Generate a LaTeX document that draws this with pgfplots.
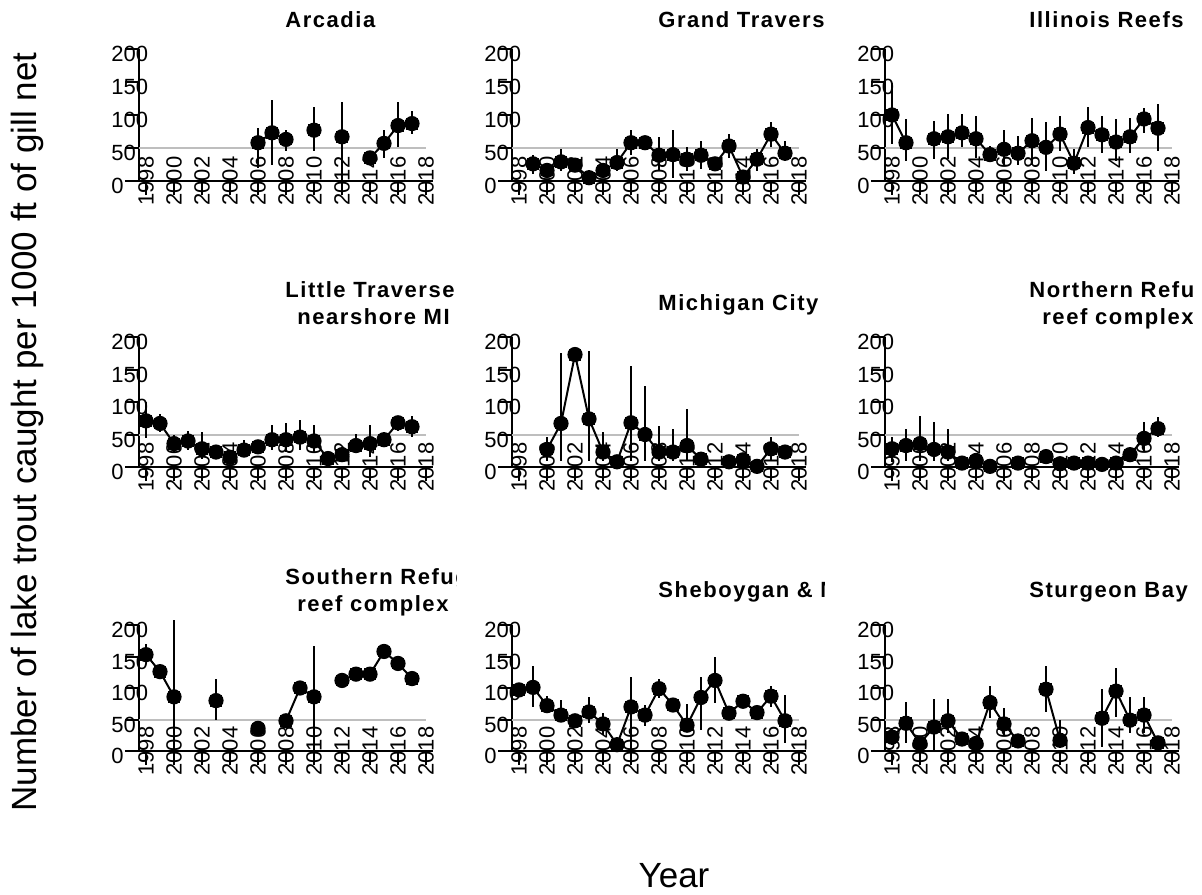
\documentclass[border=0pt]{standalone}
\usepackage{fontspec}
\setmainfont{Liberation Sans}
\newfontfamily\ttlfont[LetterSpace=7.0]{Liberation Sans}
\usepackage{pgfplots}
\pgfplotsset{compat=1.18}
\usepackage{pgfplotstable}

% columns: year, mean, upper, lower
\pgfplotstableread{
yr v hi lo
2006 58 81 20
2007 73 122 25
2008 63 78 46
2009 nan nan nan
2010 77 112 46
2011 nan nan nan
2012 67 119 0
2013 nan nan nan
2014 35 43 28
2015 57 78 35
2016 84 119 51
2017 87 106 71
}\arcadia

\pgfplotstableread{
yr v hi lo
1999 26 40 10
2000 16 25 8
2001 29 48 15
2002 24 35 13
2003 5 10 0
2004 16 25 8
2005 28 48 15
2006 58 78 40
2007 58 67 48
2008 39 66 15
2009 40 78 5
2010 33 51 15
2011 39 61 18
2012 26 35 20
2013 53 71 35
2014 6 13 0
2015 33 48 15
2016 71 89 51
2017 42 61 30
}\grandtrav

\pgfplotstableread{
yr v hi lo
1998 100 149 56
1999 58 94 30
2000 nan nan nan
2001 64 91 33
2002 67 101 33
2003 73 101 51
2004 64 99 35
2005 40 53 30
2006 48 78 25
2007 42 68 25
2008 61 96 25
2009 51 89 15
2010 71 99 46
2011 27 48 10
2012 81 112 51
2013 70 99 43
2014 59 94 30
2015 67 96 43
2016 94 111 73
2017 80 116 46
}\illinois

\pgfplotstableread{
yr v hi lo
1998 71 100 44
1999 67 82 54
2000 36 49 23
2001 40 56 26
2002 28 54 13
2003 23 33 15
2004 15 26 8
2005 26 41 15
2006 31 38 21
2007 42 64 26
2008 42 67 23
2009 46 73 26
2010 40 64 23
2011 13 18 8
2012 19 28 10
2013 33 51 21
2014 36 64 15
2015 42 54 31
2016 68 77 56
2017 62 79 46
}\littletrav

\pgfplotstableread{
yr v hi lo
2000 27 46 10
2001 67 175 10
2002 173 179 167
2003 74 178 10
2004 23 54 10
2005 8 13 3
2006 68 155 10
2007 50 124 10
2008 23 63 10
2009 23 59 10
2010 33 90 10
2011 12 15 8
2012 nan nan nan
2013 8 11 5
2014 11 16 5
2015 1 3 0
2016 28 46 10
2017 23 28 18
}\michcity

\pgfplotstableread{
yr v hi lo
1998 28 46 8
1999 33 59 10
2000 36 79 10
2001 27 69 10
2002 23 59 10
2003 6 9 3
2004 10 18 3
2005 1 2 0
2006 nan nan nan
2007 6 8 4
2008 nan nan nan
2009 16 26 8
2010 5 7 3
2011 6 8 4
2012 6 8 4
2013 4 6 2
2014 6 9 3
2015 19 26 13
2016 44 69 23
2017 59 77 46
}\northref

\pgfplotstableread{
yr v hi lo
1998 153 170 144
1999 126 126 126
2000 86 208 0
2001 nan nan nan
2003 80 114 50
2004 nan nan nan
2006 36 36 36
2007 nan nan nan
2008 48 54 41
2009 100 100 100
2010 86 167 0
2011 nan nan nan
2012 112 112 112
2013 122 122 122
2014 122 122 122
2015 158 158 158
2016 139 139 139
2017 115 115 115
}\southref

\pgfplotstableread{
yr v hi lo
1998 97 102 92
1999 101 135 70
2000 72 87 62
2001 57 81 47
2002 48 54 41
2003 62 85 44
2004 43 60 25
2005 10 15 4
2006 70 118 0
2007 57 73 39
2008 99 114 84
2009 73 81 65
2010 41 75 33
2011 85 117 33
2012 112 150 76
2013 60 68 52
2014 79 89 70
2015 61 70 54
2016 87 103 70
2017 48 89 13
}\sheboygan

\pgfplotstableread{
yr v hi lo
1998 22 36 10
1999 44 78 13
2000 12 23 2
2001 38 82 0
2002 48 82 28
2003 19 25 12
2004 12 20 4
2005 77 103 52
2006 43 68 25
2007 16 25 7
2008 nan nan nan
2009 98 135 62
2010 17 49 10
2011 nan nan nan
2013 52 99 7
2014 95 131 54
2015 49 86 28
2016 57 86 28
2017 13 20 4
}\sturgeon

\definecolor{refgray}{RGB}{190,190,190}

\pgfplotsset{
  panel/.style={
    scale only axis, width=147pt,
    xmin=1997.5, xmax=2018.5, ymin=0, ymax=200,
    axis x line=bottom, axis y line=left,
    axis line style={-, line width=1pt, black},
    xtick={1998,2000,...,2018}, ytick={0,50,...,200},
    tick align=outside, major tick length=7pt,
    tick style={black, line width=1pt},
    /pgf/number format/1000 sep={},
    /pgf/number format/assume math mode=true,
    xticklabel style={yshift=7pt, rotate=90, anchor=center, inner sep=0pt,
      font=\fontsize{11}{12}\selectfont},
    yticklabel style={anchor=west, inner sep=0pt, xshift=-7pt, yshift=-2.5pt,
      font=\fontsize{11}{12}\selectfont},
    clip=false, unbounded coords=jump,
    anchor=south west,
  },
  errb/.style={only marks, mark=none, forget plot,
    error bars/.cd, y dir=both, y explicit, error mark=none,
    error bar style={line width=1pt, black}},
}

\newcommand{\panel}[3]{%
  \begin{axis}[panel, at={#1}, height=#3]
    \addplot[refgray, line width=1pt, forget plot] coordinates {(1997.5,50) (2018,50)};
    \addplot[errb] table[x=yr, y=v,
      y error plus expr=\thisrow{hi}-\thisrow{v},
      y error minus expr=\thisrow{v}-\thisrow{lo}] {#2};
    \addplot[black, line width=1pt, mark=*, mark size=3.3pt] table[x=yr, y=v] {#2};
    \addplot[black, only marks, mark=square*, mark size=2.7pt] table[x=yr, y=v] {#2};
  \end{axis}}

\begin{document}
\begin{tikzpicture}[x=0.5pt, y=-0.5pt]
  \useasboundingbox (0,0) rectangle (1202,894);

  \panel{(69.5pt,-90.5pt)}{\arcadia}{66pt}
  \panel{(256pt,-90.5pt)}{\grandtrav}{66pt}
  \panel{(442.5pt,-90.5pt)}{\illinois}{66pt}
  \panel{(69.5pt,-233.5pt)}{\littletrav}{65pt}
  \panel{(256pt,-233.5pt)}{\michcity}{65pt}
  \panel{(442.5pt,-233.5pt)}{\northref}{65pt}
  \panel{(69.5pt,-375.5pt)}{\southref}{63pt}
  \panel{(256pt,-375.5pt)}{\sheboygan}{63pt}
  \panel{(442.5pt,-375.5pt)}{\sturgeon}{63pt}

  \tikzset{ttl/.style={anchor=base west, inner sep=0pt,
    font=\ttlfont\bfseries\fontsize{11}{13}\selectfont}}
  \begin{scope}
    \clip (0,0) rectangle (456,894);
    \node[ttl] at (285,27) {Arcadia};
    \node[ttl] at (285,297) {Little Traverse Bay};
    \node[ttl] at (297,324) {nearshore MI};
    \node[ttl] at (285,584) {Southern Refuge};
    \node[ttl] at (297,611) {reef complex};
  \end{scope}
  \begin{scope}
    \clip (458,0) rectangle (824,894);
    \node[ttl] at (658,27) {Grand Traverse Bay};
    \node[ttl] at (658,310) {Michigan City};
    \node[ttl] at (658,597) {Sheboygan \& Milwaukee};
  \end{scope}
  \begin{scope}
    \clip (826,0) rectangle (1192,894);
    \node[ttl] at (1029,27) {Illinois Reefs};
    \node[ttl] at (1029,297) {Northern Refuge};
    \node[ttl] at (1042,324) {reef complex};
    \node[ttl] at (1029,597) {Sturgeon Bay};
  \end{scope}

  \node[rotate=90, anchor=base, inner sep=0pt, font=\fontsize{17.5}{20}\selectfont]
    at (36,432) {Number of lake trout caught per 1000 ft of gill net};
  \node[anchor=base, inner sep=0pt, font=\fontsize{17.5}{20}\selectfont]
    at (674,887) {Year};
\end{tikzpicture}
\end{document}
